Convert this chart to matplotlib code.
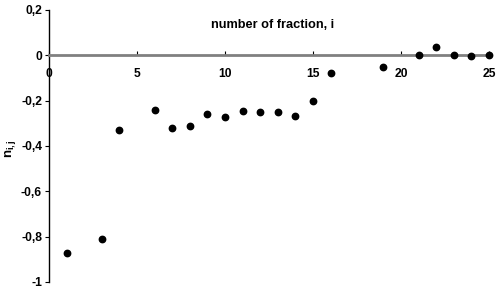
import matplotlib
matplotlib.use('Agg')
import matplotlib.pyplot as plt
from matplotlib.ticker import FuncFormatter

plt.rcParams['font.family'] = 'Liberation Sans'
plt.rcParams['font.weight'] = 'bold'
plt.rcParams['font.size'] = 8.7
plt.rcParams['mathtext.fontset'] = 'custom'
plt.rcParams['mathtext.rm'] = 'Liberation Sans:bold'
plt.rcParams['mathtext.it'] = 'Liberation Sans:bold'
plt.rcParams['mathtext.bf'] = 'Liberation Sans:bold'

fraction = [1, 3, 4, 6, 7, 8, 9, 10, 11, 12, 13, 14, 15, 16, 19, 21, 22, 23, 24, 25]
n_ij = [-0.872, -0.81, -0.33, -0.242, -0.319, -0.313, -0.261, -0.271, -0.245,
        -0.249, -0.249, -0.27, -0.202, -0.08, -0.052, 0.0, 0.036, 0.0, -0.002, 0.002]

fig = plt.figure(figsize=(4.96, 2.91), dpi=100)
ax = fig.add_axes([0.0988, 0.031, 0.887, 0.935])

ax.plot(fraction, n_ij, 'o', color='black', markersize=4.6, clip_on=False, zorder=3)

ax.set_xlim(0, 25)
ax.set_ylim(-1, 0.2)

# x axis sits at y = 0, grey line
ax.spines['bottom'].set_position(('data', 0))
ax.spines['bottom'].set_color('#808080')
ax.spines['bottom'].set_linewidth(2)
ax.spines['top'].set_visible(False)
ax.spines['right'].set_visible(False)
ax.spines['left'].set_linewidth(1)

ax.set_xticks([0, 5, 10, 15, 20, 25])
ax.set_yticks([-1, -0.8, -0.6, -0.4, -0.2, 0, 0.2])
comma = FuncFormatter(lambda v, p: ('%g' % round(v, 2)).replace('.', ','))
ax.xaxis.set_major_formatter(comma)
ax.yaxis.set_major_formatter(comma)
ax.tick_params(axis='x', direction='in', length=3, width=0.8, color='black', pad=9)
ax.tick_params(axis='y', direction='out', length=3, width=0.8, pad=2)

ax.text(0.508, 0.945, 'number of fraction, i', transform=ax.transAxes,
        ha='center', va='center', fontsize=9.2, fontweight='bold')
fig.text(0.022, 0.49, r'$n_{i,j}$', rotation=90, ha='center', va='center', fontsize=9.5)

plt.savefig('out.png', dpi=100)
